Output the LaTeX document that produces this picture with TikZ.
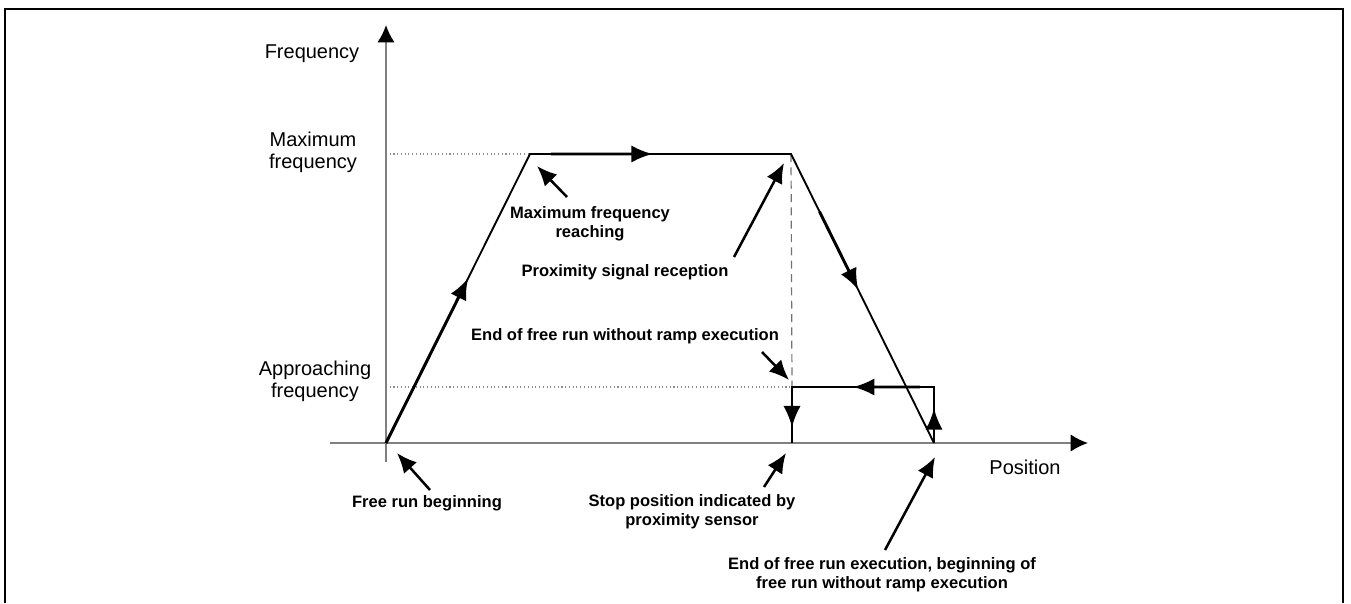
\documentclass[tikz,border=0pt]{standalone}
\usepackage{fontspec}
\setmainfont{Liberation Sans}
\usetikzlibrary{arrows.meta,calc}
\begin{document}
\begin{tikzpicture}[x=0.75pt,y=-0.75pt,
  axis/.style={draw=black!50,line width=1.4pt,-{Latex[length=13pt,width=13pt,color=black]}},
  curve/.style={draw=black,line width=1.4pt},
  flow/.style={draw=black,line width=2.2pt,-{Latex[length=16pt,width=13pt]}},
  guide/.style={draw=black!45,line width=0.8pt,dotted},
  dashguide/.style={draw=black!55,line width=0.9pt,dash pattern=on 6pt off 4pt},
  pointer/.style={draw=black,line width=1.9pt,-{Latex[length=15pt,width=13pt]}},
  axlabel/.style={font=\fontsize{15}{16.5}\selectfont,align=center,inner sep=0pt},
  note/.style={font=\fontsize{12.4}{14}\selectfont\bfseries,align=center,inner sep=0pt}]
\useasboundingbox (0,0) rectangle (1351,603);
% frame
\draw[line width=2.2pt] (5,603) -- (5,9) -- (1343,9) -- (1343,603);
% key points
\coordinate (o) at (386,443);
\coordinate (m1) at (530,154);
\coordinate (m2) at (791,154);
\coordinate (e) at (934,443);
\coordinate (s1) at (934,387);
\coordinate (s2) at (792,387);
\coordinate (s3) at (792,443);
\coordinate (ymax) at (386,154);
\coordinate (yapp) at (386,387);
\coordinate (ybot) at (386,462);
\coordinate (ytop) at (386,25);
\coordinate (xl) at (330,443);
\coordinate (xr) at (1088,443);
% guides
\draw[guide] (ymax) -- (m1);
\draw[guide] (yapp) -- (s2);
\draw[dashguide] (m2) -- (s2);
% axes
\draw[axis] (ybot) -- (ytop);
\draw[axis] (xl) -- (xr);
% profile
\draw[curve] (o) -- (m1) -- (m2) -- (e);
\draw[curve] (e) -- (s1) -- (s2) -- (s3);
% direction arrows
\draw[flow] (o) -- ($(o)!0.57!(m1)$);
\draw[flow] ($(m1)!0.08!(m2)$) -- ($(m1)!0.47!(m2)$);
\draw[flow] ($(m2)!0.2!(e)$) -- ($(m2)!0.47!(e)$);
\draw[flow] ($(s1)!0.1!(s2)$) -- ($(s1)!0.57!(s2)$);
\draw[flow] (e) -- ($(e)!0.62!(s1)$);
\draw[flow] (s2) -- ($(s2)!0.72!(s3)$);
% axis labels
\node[axlabel] (lf) at (312,54) {Frequency};
\node[axlabel] (lmax) at (313,152) {Maximum\\frequency};
\node[axlabel] (lapp) at (315,381) {Approaching\\frequency};
\node[axlabel] (lpos) at (1025,467) {Position};
% notes
\node[note] (n1) at (590,224) {Maximum frequency\\reaching};
\node[note] (n2) at (625,272) {Proximity signal reception};
\node[note] (n3) at (625,336) {End of free run without ramp execution};
\node[note] (n4) at (427,503) {Free run beginning};
\node[note] (n5) at (692,512) {Stop position indicated by\\proximity sensor};
\node[note] (n6) at (882,575) {End of free run execution, beginning of\\free run without ramp execution};
% pointer ends
\coordinate (p1a) at (567,197); \coordinate (p1b) at (537,166);
\coordinate (p2a) at (734,257); \coordinate (p2b) at (784,163);
\coordinate (p3a) at (762,352); \coordinate (p3b) at (789,380);
\coordinate (p4a) at (430,490); \coordinate (p4b) at (397,453);
\coordinate (p5a) at (764,487); \coordinate (p5b) at (786,453);
\coordinate (p6a) at (885,550); \coordinate (p6b) at (935,457);
\draw[pointer] (p1a) -- (p1b);
\draw[pointer] (p2a) -- (p2b);
\draw[pointer] (p3a) -- (p3b);
\draw[pointer] (p4a) -- (p4b);
\draw[pointer] (p5a) -- (p5b);
\draw[pointer] (p6a) -- (p6b);
\end{tikzpicture}
\end{document}
